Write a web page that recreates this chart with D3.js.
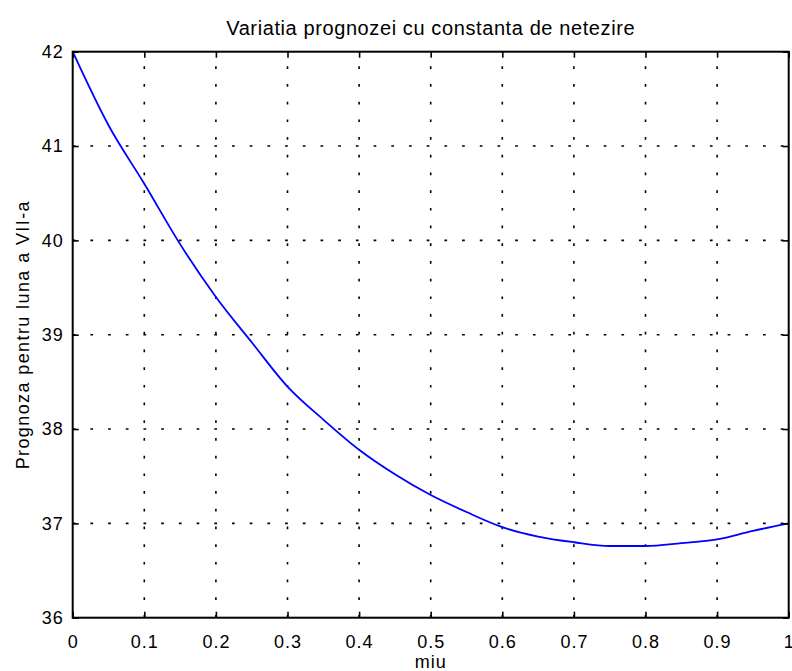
<!DOCTYPE html>
<html>
<head>
  <meta charset="utf-8">
  <script src="https://d3js.org/d3.v7.min.js"></script>
  <style>
  body { margin: 0; background: #fff; }
  text { font-family: "Liberation Sans", Arial, sans-serif; fill: #000; }
  .grid line { stroke: #000; stroke-width: 1.6; stroke-dasharray: 2.7,15; }
  </style>
</head>
<body>
<svg id="chart" width="792" height="671"></svg>
<script>
// values
var miu = [0, 0.05, 0.10, 0.15, 0.20, 0.25, 0.30, 0.35, 0.40, 0.45, 0.50,
           0.55, 0.60, 0.65, 0.70, 0.75, 0.80, 0.85, 0.90, 0.95, 1.00];
var prognoza = [42.00, 41.22, 40.60, 39.96, 39.40, 38.92, 38.45, 38.10, 37.78, 37.52, 37.30,
                37.12, 36.96, 36.86, 36.80, 36.76, 36.76, 36.79, 36.83, 36.92, 37.00];
var xTicks = [0, 0.1, 0.2, 0.3, 0.4, 0.5, 0.6, 0.7, 0.8, 0.9, 1];
var yTicks = [36, 37, 38, 39, 40, 41, 42];

var svg = d3.select("#chart");
// plot box (note: "top" is taken by window.top, so use other names)
var boxLeft = 72.7, boxRight = 788.7, boxTop = 51.7, boxBottom = 617.7;

var x = d3.scaleLinear().domain([0, 1]).range([boxLeft, boxRight]);
var y = d3.scaleLinear().domain([36, 42]).range([boxBottom, boxTop]);

// dotted grid
var grid = svg.append("g").attr("class", "grid");
grid.selectAll("line.v")
  .data(xTicks.slice(1, -1))
  .enter().append("line")
    .attr("x1", function(d) { return x(d); })
    .attr("x2", function(d) { return x(d); })
    .attr("y1", boxBottom)
    .attr("y2", boxTop);
grid.selectAll("line.h")
  .data(yTicks.slice(1, -1))
  .enter().append("line")
    .attr("x1", boxLeft)
    .attr("x2", boxRight)
    .attr("y1", function(d) { return y(d); })
    .attr("y2", function(d) { return y(d); });

// the curve
var data = miu.map(function(m, i) { return [m, prognoza[i]]; });
svg.append("path")
  .datum(data)
  .attr("fill", "none")
  .attr("stroke", "#0000ff")
  .attr("stroke-width", 1.8)
  .attr("d", d3.line()
    .x(function(d) { return x(d[0]); })
    .y(function(d) { return y(d[1]); })
    .curve(d3.curveMonotoneX));

// axes, ticks inward on all four sides
function styleAxis(g) {
  g.select(".domain").remove();
  g.selectAll(".tick line").attr("stroke", "#000").attr("stroke-width", 1.6);
  g.selectAll(".tick text").attr("font-size", "18px").attr("letter-spacing", "1px")
    .attr("font-family", "Liberation Sans, Arial, sans-serif");
}

svg.append("g")
  .attr("transform", "translate(0," + boxBottom + ")")
  .call(d3.axisBottom(x).tickValues(xTicks).tickSize(-6).tickPadding(18).tickFormat(d3.format("")))
  .call(styleAxis);

svg.append("g")
  .attr("transform", "translate(0," + boxTop + ")")
  .call(d3.axisTop(x).tickValues(xTicks).tickSize(-6).tickFormat(""))
  .call(styleAxis);

svg.append("g")
  .attr("transform", "translate(" + boxLeft + ",0)")
  .call(d3.axisLeft(y).tickValues(yTicks).tickSize(-6).tickPadding(9).tickFormat(d3.format("d")))
  .call(styleAxis);

svg.append("g")
  .attr("transform", "translate(" + boxRight + ",0)")
  .call(d3.axisRight(y).tickValues(yTicks).tickSize(-6).tickFormat(""))
  .call(styleAxis);

// frame
svg.append("rect")
  .attr("x", boxLeft).attr("y", boxTop)
  .attr("width", boxRight - boxLeft).attr("height", boxBottom - boxTop)
  .attr("fill", "none").attr("stroke", "#000").attr("stroke-width", 2);

// labels
svg.append("text")
  .attr("x", (boxLeft + boxRight) / 2).attr("y", 35)
  .attr("text-anchor", "middle")
  .attr("font-size", "20px").attr("letter-spacing", "0.6px")
  .text("Variatia prognozei cu constanta de netezire");

svg.append("text")
  .attr("x", (boxLeft + boxRight) / 2).attr("y", 668)
  .attr("text-anchor", "middle")
  .attr("font-size", "18px").attr("letter-spacing", "1px")
  .text("miu");

svg.append("text")
  .attr("transform", "translate(29," + (boxTop + boxBottom) / 2 + ") rotate(-90)")
  .attr("text-anchor", "middle")
  .attr("font-size", "18px").attr("letter-spacing", "1.4px")
  .text("Prognoza pentru luna a VII-a");
</script>
</body>
</html>
